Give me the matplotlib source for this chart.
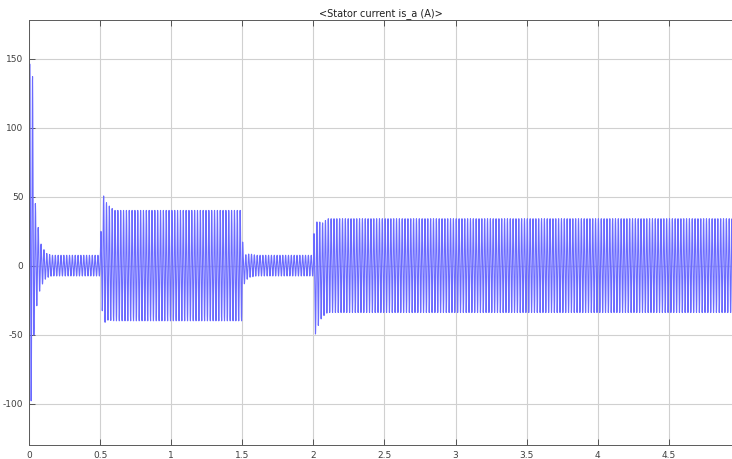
import numpy as np
import matplotlib
matplotlib.use("Agg")
import matplotlib.pyplot as plt

plt.rcParams["axes.unicode_minus"] = False

# Envolvente de la corriente del estator (t en s, amplitud en A)
env_t = [0.0, 0.003, 0.015, 0.025, 0.035, 0.045, 0.065, 0.085, 0.12, 0.16, 0.5, 0.503, 0.52, 0.55, 0.6, 1.5, 1.505, 1.53, 1.6, 2.0, 2.004, 2.02, 2.06, 5.0]
env_a = [0.0, 125, 120, 118, 58, 40, 25, 15, 9, 7.5, 7.5, 14, 47, 42, 40, 40, 12, 9, 7.5, 7.5, 36, 40, 34, 34]
# Componente continua transitoria en cada evento
dc_t = [0.0, 0.005, 0.015, 0.025, 0.04, 0.09, 0.5, 0.505, 0.54, 0.6, 1.5, 1.505, 1.55, 2.0, 2.005, 2.03, 2.1, 5.0]
dc_v = [0.0, 22, 22, 19, 5, 0, 0, 6, 3, 0, 0, -3, 0, 0, -14, -6, 0, 0]
f_red = 50.0  # Hz
dt = 1e-4

t = np.arange(0, 4.96, dt)
amp = np.interp(t, env_t, env_a)
dc = np.interp(t, dc_t, dc_v)
i_a = amp * np.sin(2 * np.pi * f_red * t) + dc

fig = plt.figure(figsize=(7.32, 4.59), dpi=100)
ax = fig.add_axes([29 / 732, 14 / 459, 1 - 29 / 732 + 0.002, (445 - 20) / 459])
ax.plot(t, i_a, color="#6a6aff", lw=0.8)

ax.set_xlim(0, 4.955)
ax.set_ylim(-130, 178)
ax.set_xticks([0, 0.5, 1, 1.5, 2, 2.5, 3, 3.5, 4, 4.5])
ax.set_xticklabels(["0", "0.5", "1", "1.5", "2", "2.5", "3", "3.5", "4", "4.5"])
ax.set_yticks([-100, -50, 0, 50, 100, 150])
ax.tick_params(direction="in", length=4, width=0.6, labelsize=6.5, colors="#404040",
               top=True, pad=4)
ax.grid(True, color="#d0d0d0", lw=0.8)
ax.set_axisbelow(True)
for s in ["left", "bottom", "top"]:
    ax.spines[s].set_color("#5a5a5a")
    ax.spines[s].set_linewidth(0.7)
ax.spines["right"].set_visible(False)
ax.axhline(0, color="#8a8a8a", lw=0.8, zorder=0)
ax.set_title("<Stator current is_a (A)>", fontsize=7, pad=3, color="#202020")

fig.savefig("out.png", dpi=100)
